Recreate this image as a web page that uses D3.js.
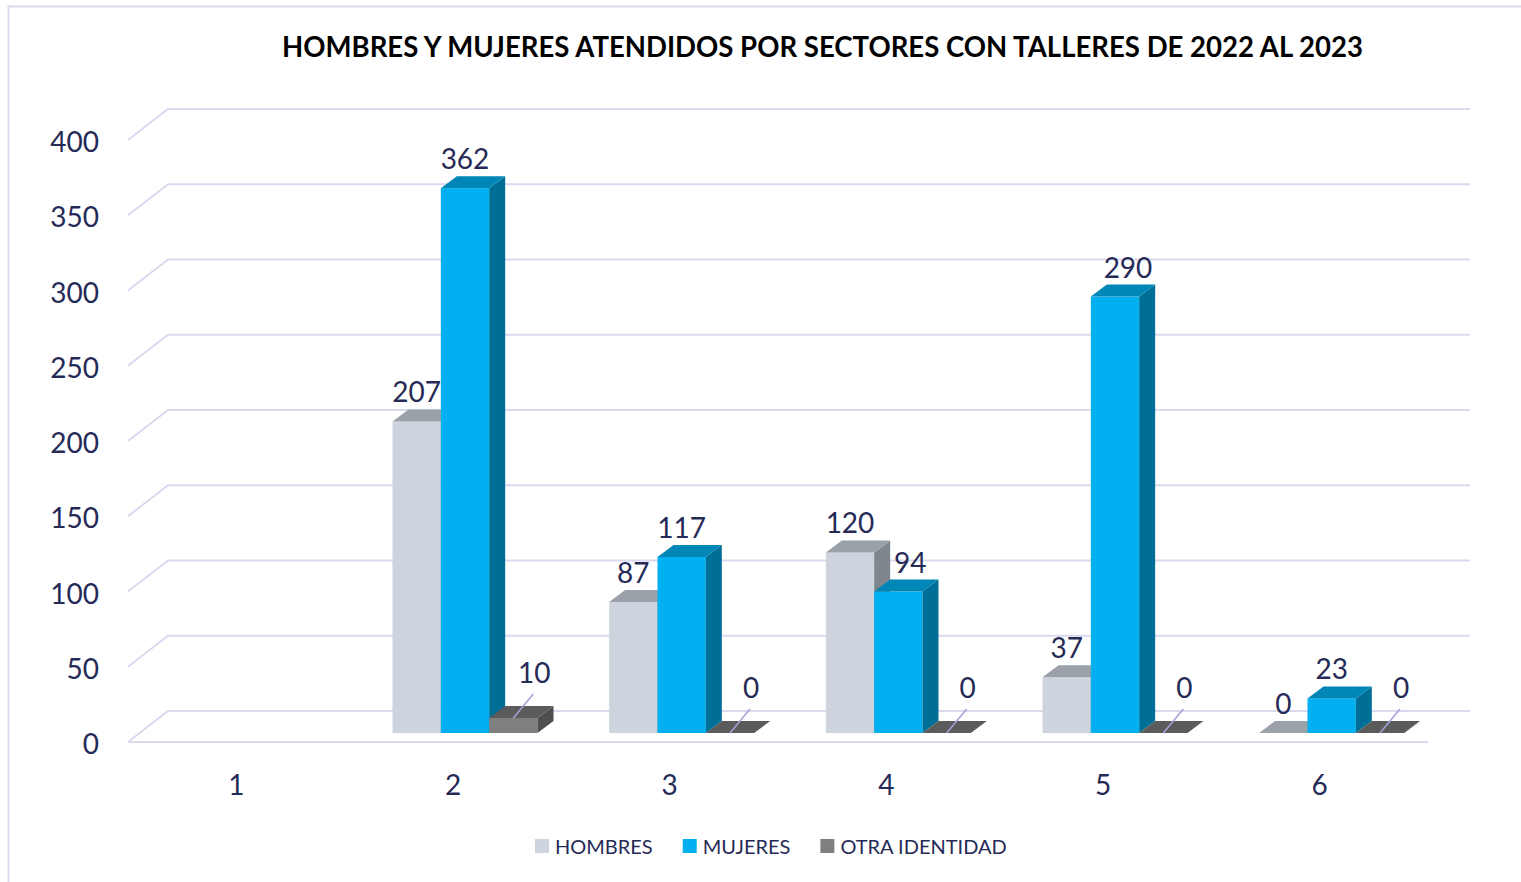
<!DOCTYPE html>
<html>
<head>
<meta charset="utf-8">
<script src="https://cdn.jsdelivr.net/npm/d3@7"></script>
<style>
  html, body { margin: 0; padding: 0; background: #fff; }
  svg { display: block; }
  text { font-family: Lato, "Noto Sans", sans-serif; }
</style>
</head>
<body>
<div id="chart"></div>
<script>
// 3D-style clustered columns, drawn by hand with D3 scales

// ---------------------------------------------------------------------------
// Data
// ---------------------------------------------------------------------------
const title = "HOMBRES Y MUJERES ATENDIDOS POR SECTORES CON TALLERES DE 2022 AL 2023";
const categories = ["1", "2", "3", "4", "5", "6"];
const seriesNames = ["HOMBRES", "MUJERES", "OTRA IDENTIDAD"];
const hombres = [null, 207, 87, 120, 37, 0];
const mujeres = [null, 362, 117, 94, 290, 23];
const otra    = [null, 10, 0, 0, 0, 0];
const yTicks  = [0, 50, 100, 150, 200, 250, 300, 350, 400];

// ---------------------------------------------------------------------------
// Look
// ---------------------------------------------------------------------------
const W = 1521, H = 882;
const faces = {
  "HOMBRES":        { front: "#cdd4dd", top: "#9aa1a8", side: "#80868d" },
  "MUJERES":        { front: "#00b0f0", top: "#0087b7", side: "#006f97" },
  "OTRA IDENTIDAD": { front: "#7f7f7f", top: "#5b5b5b", side: "#4f4f4f" },
};
const textColor = "#262a56";
const gridColor = "#d9d9f0";
const depth = { dx: 16, dy: -12 };     // bar depth
const wall  = { dx: 40, dy: -31 };     // floor depth
// Excel moved a couple of labels sideways (key: category-seriesIndex)
const labelShift = { "4-1": 12, "5-1": 13 };

const svg = d3.select("#chart").append("svg")
  .attr("width", W).attr("height", H);

// chart frame
svg.append("path")
  .attr("d", `M8.5,${H} L8.5,6.5 L${W},6.5`)
  .attr("fill", "none").attr("stroke", gridColor).attr("stroke-width", 2);

// title
svg.append("text")
  .attr("x", 282).attr("y", 57)
  .attr("textLength", 1081).attr("lengthAdjust", "spacingAndGlyphs")
  .attr("font-size", 28).attr("font-weight", 700).attr("fill", "#000")
  .text(title);

// ---------------------------------------------------------------------------
// Scales
// ---------------------------------------------------------------------------
const x0 = d3.scaleBand().domain(categories).range([128, 1428]);
const groupW = 145;
const x1 = d3.scaleBand().domain(seriesNames).range([0, groupW]);
const yGrid = d3.scaleLinear().domain([0, 400]).range([742, 140]);
const yBar  = d3.scaleLinear().domain([0, 400]).range([733, 131]);
const rightBack = 1470;

// ---------------------------------------------------------------------------
// Gridlines (perspective) + floor
// ---------------------------------------------------------------------------
const grid = svg.append("g").attr("fill", "none")
  .attr("stroke", gridColor).attr("stroke-width", 2);

grid.selectAll("path.g").data(yTicks).join("path")
  .attr("class", "g")
  .attr("d", (v) => {
    const yf = yGrid(v);
    return `M128,${yf} L${128 + wall.dx},${yf + wall.dy} L${rightBack},${yf + wall.dy}`;
  });

grid.append("line")
  .attr("x1", 128).attr("x2", x0.range()[1])
  .attr("y1", yGrid(0)).attr("y2", yGrid(0));

// y tick labels
svg.append("g").selectAll("text").data(yTicks).join("text")
  .attr("x", 99).attr("y", (v) => yGrid(v) + 1)
  .attr("text-anchor", "end").attr("dominant-baseline", "central")
  .attr("font-size", 28).attr("fill", textColor)
  .text((v) => v);

// category labels
svg.append("g").selectAll("text").data(categories).join("text")
  .attr("x", (c) => x0(c) + x0.bandwidth() / 2).attr("y", 784)
  .attr("text-anchor", "middle").attr("dominant-baseline", "central")
  .attr("font-size", 28).attr("fill", textColor)
  .text((c) => c);

// ---------------------------------------------------------------------------
// Bars
// ---------------------------------------------------------------------------
const seriesValues = [hombres, mujeres, otra];
const bars = [];
categories.forEach((c, ci) => {
  seriesNames.forEach((s, si) => {
    const v = seriesValues[si][ci];
    if (v == null) return;
    const gx = x0(c) + (x0.bandwidth() - groupW) / 2 + 12;
    bars.push({ c, ci, s, si, v, x: gx + x1(s), w: x1.bandwidth() });
  });
});

const barG = svg.append("g");
bars.forEach((b) => {
  const g = barG.append("g");
  const y0 = yBar(0), yt = yBar(b.v);
  const { dx, dy } = depth;
  const f = faces[b.s];
  // front
  g.append("rect")
    .attr("x", b.x).attr("y", yt)
    .attr("width", b.w).attr("height", y0 - yt)
    .attr("fill", f.front);
  // side
  g.append("path")
    .attr("d", `M${b.x + b.w},${yt} L${b.x + b.w + dx},${yt + dy} L${b.x + b.w + dx},${y0 + dy} L${b.x + b.w},${y0} Z`)
    .attr("fill", f.side);
  // top
  g.append("path")
    .attr("d", `M${b.x},${yt} L${b.x + dx},${yt + dy} L${b.x + b.w + dx},${yt + dy} L${b.x + b.w},${yt} Z`)
    .attr("fill", f.top);
});

// ---------------------------------------------------------------------------
// Data labels
// ---------------------------------------------------------------------------
const labelG = svg.append("g");
bars.forEach((b) => {
  const cx = b.x + b.w / 2;
  const yt = yBar(b.v);
  if (b.s === "OTRA IDENTIDAD") {
    // moved label with a leader line
    labelG.append("line")
      .attr("x1", cx).attr("y1", yt)
      .attr("x2", cx + 20).attr("y2", yt - 24)
      .attr("stroke", "#a3a3dc").attr("stroke-width", 1.5);
    labelG.append("text")
      .attr("x", cx + 21).attr("y", yt - 46)
      .attr("text-anchor", "middle").attr("dominant-baseline", "central")
      .attr("font-size", 28).attr("fill", textColor)
      .text(b.v);
  } else {
    labelG.append("text")
      .attr("x", cx + (labelShift[b.c + "-" + b.si] || 0)).attr("y", yt - 30)
      .attr("text-anchor", "middle").attr("dominant-baseline", "central")
      .attr("font-size", 28).attr("fill", textColor)
      .text(b.v);
  }
});

// ---------------------------------------------------------------------------
// Legend
// ---------------------------------------------------------------------------
const legend = svg.append("g");
let lx = 535;
seriesNames.forEach((s) => {
  legend.append("rect")
    .attr("x", lx).attr("y", 839).attr("width", 14).attr("height", 14)
    .attr("fill", faces[s].front);
  const t = legend.append("text")
    .attr("x", lx + 20).attr("y", 846)
    .attr("dominant-baseline", "central")
    .attr("font-size", 20).attr("fill", textColor)
    .text(s);
  lx += 20 + t.node().getComputedTextLength() + 30;
});
</script>
</body>
</html>
